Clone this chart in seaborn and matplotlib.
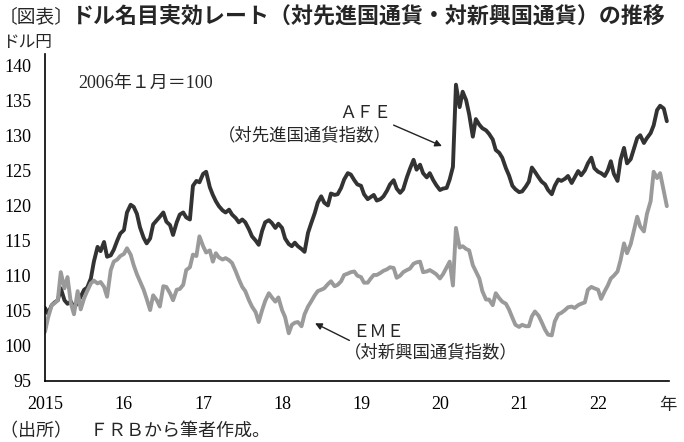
import matplotlib
matplotlib.use('Agg')
import matplotlib.pyplot as plt
import pandas as pd
import seaborn as sns

# Readings taken off the chart on the 1st and 15th of each month (2006/1 = 100)
afe_2015 = [105.4, 104.6, 105.8, 106.2, 106.5, 108.2, 106.5, 106.0, 106.3, 105.4, 106.2, 107.0,
            108.0, 108.3, 109.6, 112.0, 114.1, 113.5, 114.8, 112.7, 112.9, 113.7, 115.0, 116.0]
afe_2016 = [116.5, 119.0, 120.1, 119.8, 118.8, 116.9, 115.4, 114.6, 115.3, 117.3, 117.9, 118.4,
            119.0, 117.7, 117.2, 115.8, 117.6, 118.7, 119.0, 118.3, 118.0, 122.8, 123.5, 123.3]
afe_2017 = [124.5, 124.8, 122.6, 121.5, 120.6, 119.9, 119.3, 119.0, 119.4, 118.7, 118.2, 117.6,
            118.0, 117.6, 116.6, 115.6, 115.0, 114.4, 116.4, 117.6, 117.9, 117.5, 116.8, 117.4]
afe_2018 = [116.8, 115.3, 114.5, 114.2, 114.7, 114.2, 113.8, 113.4, 116.1, 117.4, 118.9, 120.4,
            121.3, 120.4, 120.0, 121.7, 121.5, 121.6, 122.5, 123.7, 124.6, 124.4, 123.6, 123.0]
afe_2019 = [122.8, 121.6, 120.9, 121.2, 121.5, 120.7, 120.9, 121.3, 122.1, 123.0, 123.6, 122.4,
            121.8, 122.3, 124.0, 125.2, 126.5, 125.1, 125.8, 124.6, 124.0, 124.6, 123.6, 122.9]
afe_2020 = [122.2, 122.4, 122.5, 123.7, 125.5, 137.2, 134.0, 136.2, 135.0, 133.0, 129.8, 132.3,
            131.5, 131.0, 130.7, 130.2, 129.4, 127.9, 127.5, 126.8, 125.3, 124.3, 122.8, 122.3]
afe_2021 = [121.9, 122.0, 122.7, 123.4, 125.4, 124.8, 124.0, 123.4, 123.0, 122.2, 121.6, 122.8,
            123.7, 123.5, 123.8, 124.2, 123.2, 124.0, 124.9, 124.3, 125.0, 126.0, 126.8, 125.3]
afe_2022 = [124.8, 124.6, 124.2, 125.0, 126.3, 124.5, 123.5, 126.5, 128.2, 126.0, 126.6, 128.0,
            129.6, 130.0, 128.9, 129.6, 130.3, 131.4, 133.6, 134.2, 133.8, 132.0]

eme_2015 = [102.0, 104.0, 105.8, 106.1, 106.5, 110.5, 108.2, 109.8, 106.0, 104.5, 107.8, 105.2,
            106.8, 107.8, 108.9, 109.3, 108.9, 109.1, 108.4, 107.0, 110.8, 112.0, 112.3, 112.8]
eme_2016 = [113.1, 113.9, 113.0, 111.5, 110.2, 109.2, 108.0, 106.7, 105.1, 107.2, 106.5, 105.6,
            108.5, 108.4, 107.5, 106.5, 108.0, 108.1, 108.7, 110.8, 111.2, 113.0, 112.8, 115.6]
eme_2017 = [114.2, 113.3, 113.6, 112.0, 113.2, 112.6, 112.3, 112.5, 112.2, 111.8, 110.6, 109.5,
            108.4, 107.8, 106.5, 105.6, 104.8, 103.4, 105.1, 106.4, 107.5, 106.9, 106.3, 106.9]
eme_2018 = [105.1, 104.1, 101.8, 103.0, 103.3, 103.4, 102.8, 104.5, 105.6, 106.3, 107.2, 107.8,
            108.0, 108.2, 108.8, 109.2, 108.5, 108.7, 109.2, 110.1, 110.3, 110.5, 110.6, 110.0]
eme_2019 = [109.8, 109.0, 109.0, 109.6, 110.1, 110.1, 110.4, 110.7, 110.9, 111.2, 111.1, 109.7,
            110.0, 110.5, 110.8, 111.0, 111.7, 111.9, 112.0, 110.5, 110.6, 110.8, 110.5, 110.2]
eme_2020 = [109.6, 110.2, 111.2, 112.0, 108.6, 116.8, 114.0, 114.2, 113.8, 113.6, 111.5, 110.6,
            109.6, 107.8, 106.6, 106.6, 105.8, 107.5, 106.8, 106.3, 106.0, 105.2, 104.0, 103.0]
eme_2021 = [102.7, 103.0, 102.8, 102.8, 104.2, 104.9, 104.3, 103.4, 102.3, 101.6, 101.5, 103.5,
            104.5, 104.7, 105.1, 105.5, 105.6, 105.4, 105.8, 106.0, 106.2, 108.0, 108.4, 108.2]
eme_2022 = [108.0, 106.7, 107.8, 108.6, 109.6, 110.0, 110.6, 112.2, 114.6, 113.2, 114.5, 116.3,
            118.4, 117.0, 116.3, 118.8, 120.6, 124.8, 123.9, 124.6, 122.0, 119.9]

year_ticks = ['2015-01-01', '2016-01-01', '2017-01-01', '2018-01-01',
              '2019-01-01', '2020-01-01', '2021-01-01', '2022-01-01']
year_labels = ['2015', '16', '17', '18', '19', '20', '21', '22']
value_ticks = [95, 100, 105, 110, 115, 120, 125, 130, 135, 140]

afe = afe_2015 + afe_2016 + afe_2017 + afe_2018 + afe_2019 + afe_2020 + afe_2021 + afe_2022
eme = eme_2015 + eme_2016 + eme_2017 + eme_2018 + eme_2019 + eme_2020 + eme_2021 + eme_2022
dates = pd.date_range('2015-01-01', periods=len(afe), freq='SMS')

df = pd.DataFrame({
    'date': list(dates) * 2,
    'value': afe + eme,
    'series': ['AFE'] * len(afe) + ['EME'] * len(eme),
})

sns.set_theme(style='white')
plt.rcParams['font.family'] = ['Liberation Serif', 'Noto Sans CJK JP']
CJK = ['Noto Sans CJK JP']
W, H = 684, 442


def fx(px):
    return px / W


def fy(py):
    return 1 - py / H


fig = plt.figure(figsize=(6.84, 4.42), dpi=100)
ax = fig.add_axes([fx(45), fy(381), (669 - 45) / W, (381 - 54.5) / H])

sns.lineplot(data=df, x='date', y='value', hue='series',
             palette={'AFE': '#333333', 'EME': '#9a9a9a'},
             linewidth=2.8, estimator=None, legend=False, ax=ax)

ax.set_xlim(pd.Timestamp('2015-01-01'), pd.Timestamp('2022-11-25'))
ax.set_ylim(95, 141.5)
ax.set_xticks(pd.to_datetime(year_ticks))
ax.set_xticklabels(year_labels)
ax.set_yticks(value_ticks)
ax.set_xlabel('')
ax.set_ylabel('')
for s in ['top', 'right']:
    ax.spines[s].set_visible(False)
for s in ['left', 'bottom']:
    ax.spines[s].set_color('black')
    ax.spines[s].set_linewidth(1.2)
ax.tick_params(axis='both', direction='in', length=6, width=1, colors='black',
               labelsize=13)
ax.tick_params(axis='y', pad=10)
ax.tick_params(axis='x', pad=11)

# title, unit and notes
fig.text(fx(-1), fy(17), '〔図表〕', family=CJK, fontsize=13.5, va='center', ha='left')
fig.text(fx(72), fy(17), 'ドル名目実効レート（対先進国通貨・対新興国通貨）の推移',
         family=CJK, fontsize=15.8, fontweight='bold', va='center', ha='left')
fig.text(fx(2), fy(43), 'ドル円', family=CJK, fontsize=12, va='center', ha='left')
fig.text(fx(78), fy(83), '2006年１月＝100', fontsize=13, va='center', ha='left')
fig.text(fx(677), fy(405), '年', family=CJK, fontsize=12.5, va='center', ha='right')
fig.text(fx(0), fy(431), '（出所）　ＦＲＢから筆者作成。', family=CJK, fontsize=13,
         va='center', ha='left')

# series labels with arrows
fig.text(fx(391), fy(113), 'ＡＦＥ', family=CJK, fontsize=12.5, va='center', ha='right')
fig.text(fx(392), fy(135), '（対先進国通貨指数）', family=CJK, fontsize=12.5,
         va='center', ha='right')
fig.text(fx(352), fy(332), 'ＥＭＥ', family=CJK, fontsize=12.5, va='center', ha='left')
fig.text(fx(344), fy(352), '（対新興国通貨指数）', family=CJK, fontsize=12.5,
         va='center', ha='left')

arrow = dict(arrowstyle='-|>', color='#222222', lw=1.0, mutation_scale=10)
ax.annotate('', xy=(pd.Timestamp('2020-01-22'), 128.3),
            xytext=(pd.Timestamp('2019-05-20'), 131.6), arrowprops=arrow)
ax.annotate('', xy=(pd.Timestamp('2018-05-22'), 103.4),
            xytext=(pd.Timestamp('2018-11-20'), 100.6), arrowprops=arrow)

fig.savefig('out.png', dpi=100)
